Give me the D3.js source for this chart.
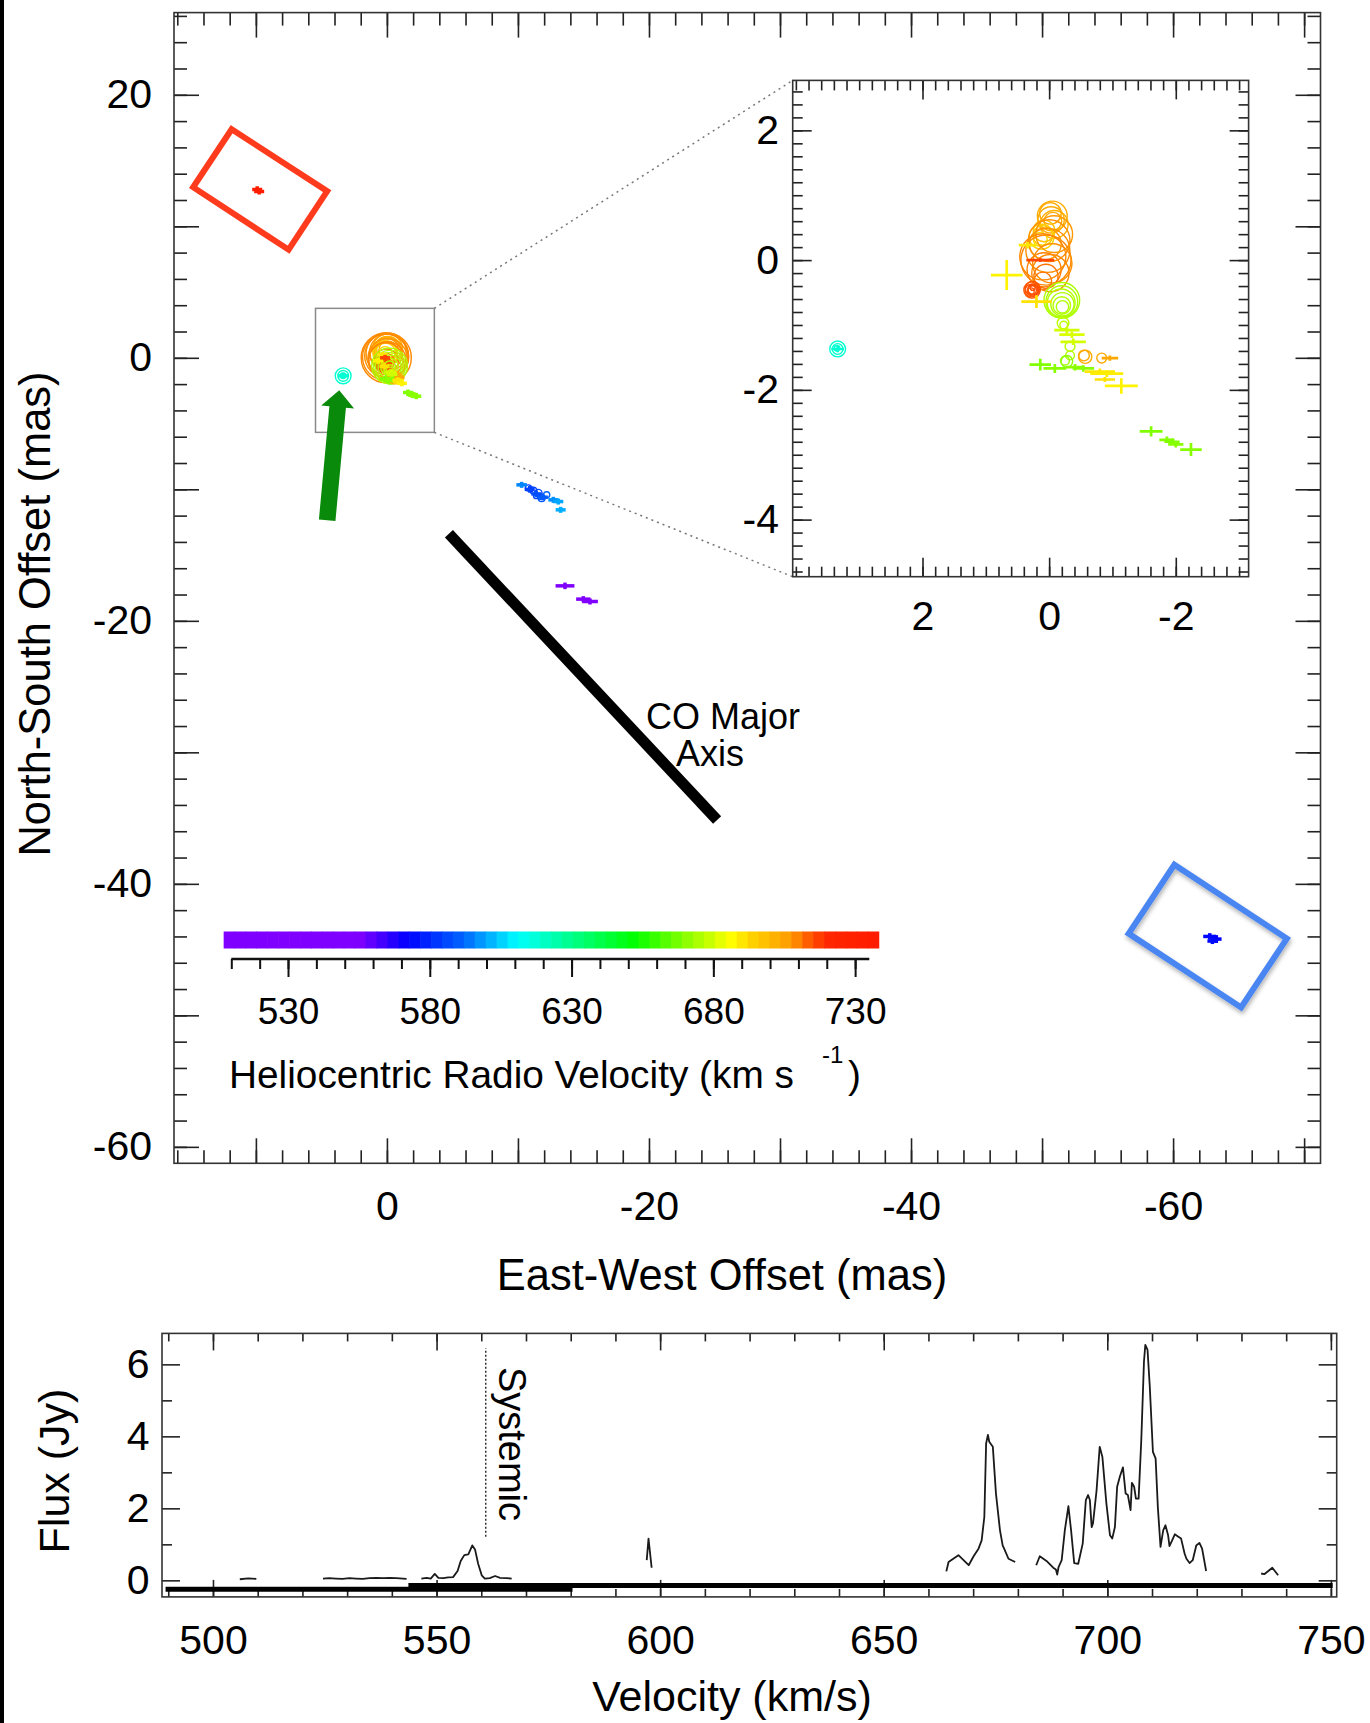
<!DOCTYPE html>
<html>
<head>
<meta charset="utf-8">
<script src="https://cdn.jsdelivr.net/npm/d3@7"></script>
<style>
  body { margin: 0; background: #fff; }
  text { font-family: "Liberation Sans", Arial, Helvetica, sans-serif; fill: #000; }
</style>
</head>
<body>
<div id="chart"></div>
<script>
/* ---- data ---- */

// colour bar: heliocentric velocity (km/s) -> colour
var cbarVel = [507, 555, 572, 592, 611, 652, 670, 686, 694, 706, 710, 714, 720, 738];
var cbarCol = ["#8000ff", "#8000ff", "#0000ff", "#0066ff", "#00ffff", "#00ff00", "#88ff00",
               "#ffff00", "#ffd000", "#ffa000", "#ff8000", "#ff5500", "#ff2800", "#ff1a00"];
var cbarTicks = [530, 580, 630, 680, 730];

// maser spots drawn as circles (offsets in mas, velocity km/s, flux Jy)
var circX = [-0.05, -0.03, -0.08, -0.02, -0.06, 0.12, 0.10, 0.14, 0.08, -0.08, 0.02, 0.05, -0.05, 0.08, 0.05, 0.10, 0.06,
             0.00, 0.10, -0.02,
             0.27, 0.26, 0.28, 0.25, 0.27, 0.29, 0.26,
             -0.20, -0.20, -0.19, -0.21, -0.20, -0.21, -0.22, -0.23, -0.33, -0.33, -0.28, -0.25,
             -0.57, -0.55, -0.83, 3.34, 3.34, 3.35, -10.8, -11.17, -11.55, -11.81, -12.19, -11.4, -11.0, -11.7];
var circY = [0.68, 0.62, 0.55, 0.72, 0.60, 0.36, 0.38, 0.32, 0.45, 0.40, 0.15, 0.0, -0.05, -0.15, -0.25, -0.32, 0.25,
             0.30, 0.05, -0.20,
             -0.46, -0.44, -0.47, -0.45, -0.46, -0.48, -0.43,
             -0.62, -0.64, -0.66, -0.68, -0.70, -0.72, -0.97, -1.0, -1.33, -1.47, -1.56, -1.55,
             -1.49, -1.47, -1.51, -1.37, -1.37, -1.36, -9.9, -10.09, -10.29, -10.67, -10.42, -10.5, -10.0, -10.55];
var circV = [703, 703, 702, 704, 704, 694, 695, 693, 697, 707, 708, 709, 708, 710, 711, 711, 707,
             708, 709, 709,
             714, 714, 714, 715, 715, 714, 715,
             675, 675, 676, 675, 676, 675, 677, 677, 676, 676, 671, 672,
             703, 704, 703, 618, 619, 618, 584, 585, 587, 589, 592, 586, 583, 588];
var circF = [2.3, 1.8, 2.0, 1.2, 0.8, 1.6, 1.0, 0.5, 1.2, 3.5, 5.0, 6.5, 4.0, 3.0, 1.5, 0.8, 2.6,
             4.5, 5.5, 3.6,
             0.7, 0.55, 0.42, 0.3, 0.2, 0.12, 0.06,
             3.3, 2.6, 2.0, 1.4, 0.8, 0.4, 0.35, 0.15, 0.25, 0.2, 0.35, 0.2,
             0.45, 0.3, 0.25, 0.65, 0.3, 0.08, 0.1, 0.12, 0.15, 0.12, 0.1, 0.08, 0.06, 0.08];

// maser spots drawn as error crosses (offsets and errors in mas)
var crossX  = [0.67, 0.34, 0.20, 0.14, -0.28, -0.36, -0.38, 0.14, -0.09, -0.41, -0.54, -0.96, -0.80, -0.91, -0.88, -1.14,
               -1.61, -1.86, -1.94, -2.0, -2.24, 3.34, 9.9, 9.75, -62.8, -63.3, -63.0, -10.28, -12.7, -13.08, -13.26,
               -10.9, -11.4, -11.9, -13.59, -14.99, -15.5];
var crossY  = [-0.23, 0.23, -0.64, 0.0, -1.08, -1.15, -1.26, -1.61, -1.67, -1.65, -1.67, -1.51, -1.72, -1.75, -1.84, -1.94,
               -2.64, -2.77, -2.80, -2.84, -2.92, -1.37, 12.8, 12.65, -44.0, -44.2, -44.35, -9.66, -10.8, -10.93, -11.56,
               -10.0, -10.35, -10.6, -17.34, -18.35, -18.53];
var crossV  = [688, 690, 691, 716, 680, 681, 680, 669, 670, 671, 670, 704, 690, 689, 691, 688,
               669, 670, 669, 670, 670, 618, 733, 734, 573, 572, 574, 596, 597, 600, 601,
               585, 587, 590, 545, 546, 545];
var crossEx = [0.25, 0.14, 0.24, 0.22, 0.2, 0.2, 0.2, 0.17, 0.18, 0.15, 0.17, 0.13, 0.24, 0.26, 0.16, 0.26,
               0.18, 0.12, 0.12, 0.12, 0.17, 0.1, 0.35, 0.3, 0.5, 0.4, 0.3, 0.4, 0.35, 0.3, 0.3,
               0.35, 0.35, 0.3, 0.72, 0.55, 0.6];
var crossEy = [0.23, 0.05, 0.10, 0.03, 0.05, 0.05, 0.05, 0.09, 0.07, 0.05, 0.05, 0.04, 0.05, 0.05, 0.04, 0.12,
               0.08, 0.05, 0.05, 0.05, 0.10, 0.05, 0.25, 0.2, 0.25, 0.3, 0.2, 0.15, 0.15, 0.12, 0.1,
               0.25, 0.25, 0.2, 0.25, 0.2, 0.22];

// annotation geometry in mas
var redBox   = [[11.85, 17.38], [4.56, 12.67], [7.50, 8.22], [14.79, 12.97]];
var blueBox  = [[-60.1, -38.54], [-68.68, -44.16], [-65.19, -49.4], [-56.61, -43.78]];
var zoomBox  = [5.45, -3.62, 3.76, -5.67];      // x0, x1, y0, y1
var arrowEnds = [[4.56, -12.36], [3.64, -2.46]]; // tail, tip
var coAxis   = [[-4.73, -13.38], [-25.2, -35.14]];

// spectrum (velocity km/s, flux Jy); null separates the pieces
var specVel = [506.0, 507.9, 509.7, null,
  524.6, 526.0, 527.5, 529.0, 530.5, 532.0, 533.5, 535.0, 536.5, 538.0, 539.5, 541.0, 542.5, 543.3, null,
  546.6, 547.8, 548.7, 549.6, 550.4, 551.5, 552.6, 553.7, 554.7, 555.4, 556.2, 557.1, 558.0, 558.6, 559.3, 560.1,
  560.8, 561.9, 563.1, 564.2, 565.7, 566.8, null,
  597.0, 597.4, 598.1, null,
  664.0, 664.5, 666.7, 669.0, 670.1, 671.2, 671.9, 672.5, 672.9, 673.3, 673.6, 674.4, 675.1, 676.0, 676.6, 677.1,
  677.9, 679.4, null,
  684.1, 684.9, 686.4, 687.9, 688.5, 688.8, 689.1, 689.8, 690.5, 691.3, 691.9, 692.6, 693.5, 694.5, 695.2, 695.7,
  696.1, 696.5, 696.8, 697.6, 698.3, 698.9, 699.8, 700.6, 701.1, 701.7, 702.2, 702.8, 703.5, 704.1, 704.6, 705.2,
  705.5, 706.0, 706.4, 707.0, 707.6, 708.2, 708.5, 709.0, 709.5, 710.2, 710.8, 711.3, 711.9, 712.5, 713.0, 713.6,
  713.9, 714.5, 715.1, 715.8, 716.5, 717.3, 717.7, 718.4, 719.1, 719.9, 720.6, 721.2, 722.1, null,
  734.4, 735.1, 736.9, 738.2];
var specFlux = [0.03, 0.055, 0.04, null,
  0.05, 0.06, 0.05, 0.04, 0.06, 0.05, 0.04, 0.06, 0.07, 0.06, 0.07, 0.06, 0.05, 0.04, null,
  0.05, 0.07, 0.05, 0.18, 0.07, 0.06, 0.08, 0.09, 0.26, 0.54, 0.70, 0.72, 0.97, 0.86, 0.46, 0.14,
  0.05, 0.06, 0.12, 0.07, 0.06, 0.05, null,
  0.56, 1.16, 0.35, null,
  0.25, 0.51, 0.70, 0.42, 0.67, 0.88, 1.11, 1.76, 3.80, 4.04, 3.85, 3.71, 2.41, 1.39, 0.97, 0.83,
  0.60, 0.51, null,
  0.42, 0.67, 0.54, 0.35, 0.30, 0.16, 0.37, 0.56, 1.39, 2.06, 1.39, 0.48, 0.46, 1.02, 2.23, 2.37,
  2.23, 1.48, 1.58, 2.50, 3.71, 3.43, 2.13, 1.25, 1.16, 1.48, 2.60, 2.88, 3.14, 2.41, 2.37, 1.95,
  2.71, 2.60, 2.27, 2.27, 3.90, 6.08, 6.54, 6.40, 5.38, 3.57, 3.39, 2.04, 0.93, 1.39, 1.53, 1.25,
  0.95, 1.11, 1.28, 1.22, 1.16, 0.74, 0.60, 0.48, 0.56, 0.97, 1.04, 0.88, 0.26, null,
  0.19, 0.17, 0.35, 0.14];

// observed bands (velocity ranges) and systemic velocity
var bandVel  = [[489.4, 580.4], [543.7, 750.4]];
var bandFlux = [-0.25, -0.14];
var systemicVel = 561.0;
var systemicFlux = [1.21, 6.45];

/* ---- setup ---- */
var W = 1370, H = 1723;
var FONT = 41;

var svg = d3.select("#chart").append("svg")
  .attr("width", W).attr("height", H);

svg.append("rect").attr("width", W).attr("height", H).attr("fill", "#fff");
svg.append("rect").attr("width", 4).attr("height", H).attr("fill", "#000");

var defs = svg.append("defs");
var shadow = defs.append("filter").attr("id", "shadow")
  .attr("x", "-20%").attr("y", "-20%").attr("width", "140%").attr("height", "140%");
shadow.append("feDropShadow").attr("dx", 1).attr("dy", 3).attr("stdDeviation", 2)
  .attr("flood-color", "#000").attr("flood-opacity", 0.3);

var color = d3.scaleLinear().domain(cbarVel).range(cbarCol).interpolate(d3.interpolateRgb).clamp(true);
var rScale = d3.scaleSqrt().domain([0, 7]).range([0, 26]);

var fmt = function(d) { return String(d); };

/* Scales */
var x = d3.scaleLinear().domain([16.25, -71.25]).range([174, 1320.5]);
var y = d3.scaleLinear().domain([26.25, -61.25]).range([12.6, 1163.3]);
var xi = d3.scaleLinear().domain([4.05, -3.15]).range([792.7, 1248.6]);
var yi = d3.scaleLinear().domain([2.77, -4.88]).range([80.4, 576.7]);
var xs = d3.scaleLinear().domain([488.6, 751.3]).range([162, 1336.7]);
var ys = d3.scaleLinear().domain([6.86, -0.46]).range([1333.4, 1596.9]);
var cv = d3.scaleLinear().domain([510, 735]).range([231.3, 869.3]);

// inward ticks on all four sides plus labels on bottom/left
function frame(g, sx, sy, o) {
  var xr = sx.range(), yr = sy.range();
  var x0 = Math.min(xr[0], xr[1]), x1 = Math.max(xr[0], xr[1]);
  var y0 = yr[0], y1 = yr[1];

  function ticks(axisFn, scale, values, size, tr) {
    g.append("g").attr("transform", tr)
      .call(axisFn(scale).tickValues(values).tickSize(-size).tickFormat(""))
      .call(function(s) { s.select(".domain").remove(); })
      .selectAll("line").attr("stroke", "#222").attr("stroke-width", 1.6);
  }
  ticks(d3.axisBottom, sx, o.xMinor, o.xShort, "translate(0," + y1 + ")");
  ticks(d3.axisBottom, sx, o.xMajor, o.xLong, "translate(0," + y1 + ")");
  ticks(d3.axisTop, sx, o.xMinor, o.xShort, "translate(0," + y0 + ")");
  ticks(d3.axisTop, sx, o.xMajor, o.xLong, "translate(0," + y0 + ")");
  ticks(d3.axisLeft, sy, o.yMinor, o.yShort, "translate(" + x0 + ",0)");
  ticks(d3.axisLeft, sy, o.yMajor, o.yLong, "translate(" + x0 + ",0)");
  ticks(d3.axisRight, sy, o.yMinor, o.yShort, "translate(" + x1 + ",0)");
  ticks(d3.axisRight, sy, o.yMajor, o.yLong, "translate(" + x1 + ",0)");

  g.append("rect").attr("x", x0).attr("y", y0).attr("width", x1 - x0).attr("height", y1 - y0)
    .attr("fill", "none").attr("stroke", "#333").attr("stroke-width", 1.6);

  g.append("g").attr("transform", "translate(0," + y1 + ")")
    .call(d3.axisBottom(sx).tickValues(o.xLab).tickSize(0).tickPadding(o.xPad).tickFormat(fmt))
    .call(function(s) { s.select(".domain").remove(); })
    .attr("font-size", FONT).attr("font-family", null);
  g.append("g").attr("transform", "translate(" + x0 + ",0)")
    .call(d3.axisLeft(sy).tickValues(o.yLab).tickSize(0).tickPadding(o.yPad).tickFormat(fmt))
    .call(function(s) { s.select(".domain").remove(); })
    .attr("font-size", FONT).attr("font-family", null);
}

// draw spots through a pair of scales; minX/minY = smallest cross arm in px
function drawSpots(g, sx, sy, lw, minX, minY) {
  g.selectAll("circle.spot")
    .data(d3.range(circX.length))
    .enter().append("circle")
    .attr("class", "spot")
    .attr("cx", function(i) { return sx(circX[i]); })
    .attr("cy", function(i) { return sy(circY[i]); })
    .attr("r", function(i) { return rScale(circF[i]); })
    .attr("fill", "none")
    .attr("stroke", function(i) { return color(circV[i]); })
    .attr("stroke-width", 1.4);

  var ax = function(i) { return Math.max(Math.abs(sx(crossEx[i]) - sx(0)), minX); };
  var ay = function(i) { return Math.max(Math.abs(sy(crossEy[i]) - sy(0)), minY); };
  var cr = g.selectAll("g.cross")
    .data(d3.range(crossX.length))
    .enter().append("g").attr("class", "cross")
    .attr("stroke", function(i) { return color(crossV[i]); })
    .attr("stroke-width", lw);
  cr.append("line")
    .attr("x1", function(i) { return sx(crossX[i]) - ax(i); })
    .attr("x2", function(i) { return sx(crossX[i]) + ax(i); })
    .attr("y1", function(i) { return sy(crossY[i]); })
    .attr("y2", function(i) { return sy(crossY[i]); });
  cr.append("line")
    .attr("x1", function(i) { return sx(crossX[i]); })
    .attr("x2", function(i) { return sx(crossX[i]); })
    .attr("y1", function(i) { return sy(crossY[i]) - ay(i); })
    .attr("y2", function(i) { return sy(crossY[i]) + ay(i); });
}

/* ---- main map ---- */
var main = svg.append("g");
defs.append("clipPath").attr("id", "clipMain").append("rect")
  .attr("x", 174).attr("y", 12.6).attr("width", 1146.5).attr("height", 1150.7);
defs.append("clipPath").attr("id", "clipInset").append("rect")
  .attr("x", 792.7).attr("y", 80.4).attr("width", 455.9).attr("height", 496.3);

drawSpots(main.append("g").attr("clip-path", "url(#clipMain)"), x, y, 3.5, 5, 3);

// zoom box and connectors
main.append("rect")
  .attr("x", x(zoomBox[0])).attr("y", y(zoomBox[2]))
  .attr("width", x(zoomBox[1]) - x(zoomBox[0])).attr("height", y(zoomBox[3]) - y(zoomBox[2]))
  .attr("fill", "none").attr("stroke", "#8a8a8a").attr("stroke-width", 1.5);
[[zoomBox[2], 2.77], [zoomBox[3], -4.88]].forEach(function(p) {
  main.append("line")
    .attr("x1", x(zoomBox[1])).attr("y1", y(p[0]))
    .attr("x2", xi(4.05)).attr("y2", yi(p[1]))
    .attr("stroke", "#777").attr("stroke-width", 1.5).attr("stroke-dasharray", "2,4");
});

// boxes
var boxLine = d3.line().x(function(d) { return x(d[0]); }).y(function(d) { return y(d[1]); });
main.append("path").attr("d", boxLine(redBox) + "Z")
  .attr("fill", "none").attr("stroke", "#ff3b1d").attr("stroke-width", 6);
main.append("path").attr("d", boxLine(blueBox) + "Z")
  .attr("fill", "none").attr("stroke", "#4a86f2").attr("stroke-width", 6)
  .attr("filter", "url(#shadow)");

// green arrow
(function() {
  var t = [x(arrowEnds[0][0]), y(arrowEnds[0][1])];
  var h = [x(arrowEnds[1][0]), y(arrowEnds[1][1])];
  var dx = h[0] - t[0], dy = h[1] - t[1], len = Math.sqrt(dx * dx + dy * dy);
  var ux = dx / len, uy = dy / len, nx = -uy, ny = ux;
  var hl = 17, sw = 8.3, hw = 16.5;
  var bx = h[0] - ux * hl, by = h[1] - uy * hl;
  var pts = [
    [t[0] + nx * sw, t[1] + ny * sw], [bx + nx * sw, by + ny * sw], [bx + nx * hw, by + ny * hw],
    h, [bx - nx * hw, by - ny * hw], [bx - nx * sw, by - ny * sw], [t[0] - nx * sw, t[1] - ny * sw]
  ];
  main.append("path").attr("d", "M" + pts.join("L") + "Z").attr("fill", "#0a8a0a");
})();

// CO major axis
main.append("line")
  .attr("x1", x(coAxis[0][0])).attr("y1", y(coAxis[0][1]))
  .attr("x2", x(coAxis[1][0])).attr("y2", y(coAxis[1][1]))
  .attr("stroke", "#000").attr("stroke-width", 11);
main.append("text").attr("x", 723).attr("y", 729).attr("text-anchor", "middle")
  .attr("font-size", 36).text("CO Major");
main.append("text").attr("x", 710).attr("y", 766).attr("text-anchor", "middle")
  .attr("font-size", 36).text("Axis");

frame(main, x, y, {
  xMinor: d3.range(-70, 17, 2), xMajor: d3.range(-70, 11, 10), xShort: 13, xLong: 25,
  yMinor: d3.range(-60, 27, 2), yMajor: d3.range(-60, 21, 10), yShort: 13, yLong: 25,
  xLab: [0, -20, -40, -60], yLab: [20, 0, -20, -40, -60], xPad: 27.6, yPad: 22
});

main.append("text").attr("x", 722).attr("y", 1290).attr("text-anchor", "middle")
  .attr("font-size", 43.5).text("East-West Offset (mas)");
main.append("text").attr("transform", "translate(50,614) rotate(-90)").attr("text-anchor", "middle")
  .attr("font-size", 43.5).text("North-South Offset (mas)");

/* ---- inset ---- */
var inset = svg.append("g");
inset.append("rect").attr("x", 792.7).attr("y", 80.4).attr("width", 455.9).attr("height", 496.3).attr("fill", "#fff");
drawSpots(inset.append("g").attr("clip-path", "url(#clipInset)"), xi, yi, 2.7, 0, 0);
frame(inset, xi, yi, {
  xMinor: d3.range(-15, 21).map(function(i) { return i / 5; }), xMajor: [-2, 0, 2], xShort: 10, xLong: 19,
  yMinor: d3.range(-24, 14).map(function(i) { return i / 5; }), yMajor: [-4, -2, 0, 2], yShort: 10, yLong: 19,
  xLab: [2, 0, -2], yLab: [2, 0, -2, -4], xPad: 24.2, yPad: 13.7
});

/* ---- colour bar ---- */
var cbar = svg.append("g");
var step = 3.85;
cbar.selectAll("rect")
  .data(d3.range(507.3, 738.3, step))
  .enter().append("rect")
  .attr("x", function(d) { return cv(d); })
  .attr("y", 931.5)
  .attr("width", function(d) { return cv(Math.min(d + step, 738.3)) - cv(d) + 0.6; })
  .attr("height", 17)
  .attr("fill", function(d) { return color(d + step / 2); });

cbar.append("line").attr("x1", cv(510)).attr("x2", cv(735)).attr("y1", 959).attr("y2", 959)
  .attr("stroke", "#111").attr("stroke-width", 2.4);
[[d3.range(510, 736, 10), 10], [cbarTicks, 18]].forEach(function(t) {
  cbar.append("g").attr("transform", "translate(0,959)")
    .call(d3.axisBottom(cv).tickValues(t[0]).tickSize(t[1]).tickFormat(""))
    .call(function(s) { s.select(".domain").remove(); })
    .selectAll("line").attr("stroke", "#111").attr("stroke-width", 2);
});
cbar.append("g").attr("transform", "translate(0,959)")
  .call(d3.axisBottom(cv).tickValues(cbarTicks).tickSize(0).tickPadding(38.7).tickFormat(fmt))
  .call(function(s) { s.select(".domain").remove(); })
  .attr("font-size", 37).attr("font-family", null);
cbar.append("text").attr("x", 229).attr("y", 1088).attr("font-size", 38.8)
  .text("Heliocentric Radio Velocity (km s");
cbar.append("text").attr("x", 822).attr("y", 1063).attr("font-size", 24).text("-1");
cbar.append("text").attr("x", 848).attr("y", 1088).attr("font-size", 38.8).text(")");

/* ---- spectrum ---- */
var spec = svg.append("g");
var specData = specVel.map(function(v, i) { return { v: v, f: specFlux[i] }; });

spec.append("line")
  .attr("x1", xs(systemicVel)).attr("x2", xs(systemicVel))
  .attr("y1", ys(systemicFlux[0])).attr("y2", ys(systemicFlux[1]))
  .attr("stroke", "#333").attr("stroke-width", 1.5).attr("stroke-dasharray", "2,2");
spec.append("text")
  .attr("transform", "translate(" + (xs(systemicVel) + 13) + "," + ys(5.93) + ") rotate(90)")
  .attr("font-size", 38).text("Systemic");

spec.append("path")
  .datum(specData)
  .attr("d", d3.line()
    .defined(function(d) { return d.v != null && d.f != null; })
    .x(function(d) { return xs(d.v); })
    .y(function(d) { return ys(d.f); }))
  .attr("fill", "none").attr("stroke", "#1a1a1a").attr("stroke-width", 1.8)
  .attr("stroke-linejoin", "round");

frame(spec, xs, ys, {
  xMinor: d3.range(490, 751, 10), xMajor: d3.range(500, 751, 50), xShort: 8, xLong: 17,
  yMinor: [1, 3, 5], yMajor: [0, 2, 4, 6], yShort: 10, yLong: 18,
  xLab: d3.range(500, 751, 50), yLab: [0, 2, 4, 6], xPad: 28, yPad: 12.5
});

bandVel.forEach(function(b, i) {
  spec.append("line")
    .attr("x1", xs(b[0])).attr("x2", xs(b[1]))
    .attr("y1", ys(bandFlux[i])).attr("y2", ys(bandFlux[i]))
    .attr("stroke", "#000").attr("stroke-width", 5);
});

spec.append("text").attr("x", 732).attr("y", 1711).attr("text-anchor", "middle")
  .attr("font-size", 43).text("Velocity (km/s)");
spec.append("text").attr("transform", "translate(69,1471) rotate(-90)").attr("text-anchor", "middle")
  .attr("font-size", 43).text("Flux (Jy)");
</script>
</body>
</html>
